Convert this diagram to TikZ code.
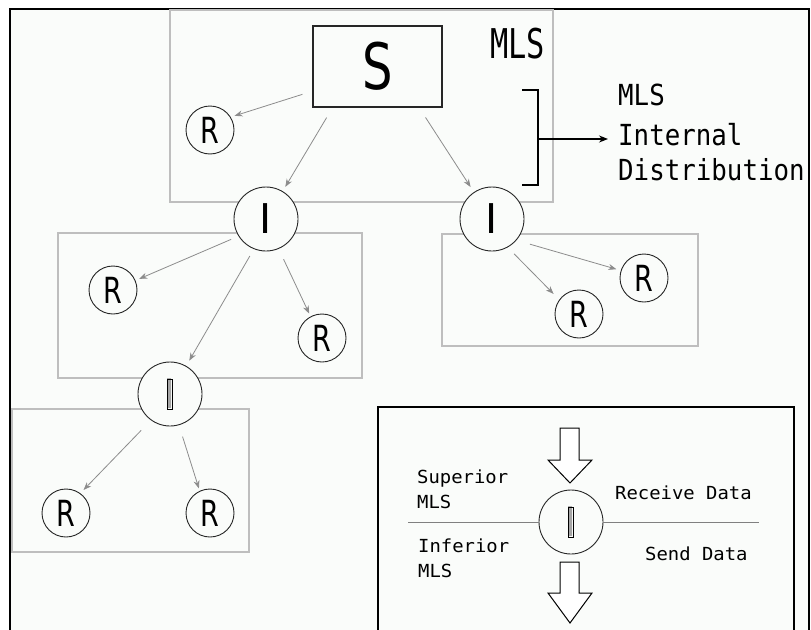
\documentclass[tikz,border=0pt]{standalone}
\usepackage{fontspec}
\usetikzlibrary{arrows.meta,calc}

\newfontfamily\lettfont[FakeStretch=0.75]{DejaVu Sans}
\newfontfamily\barfont{DejaVu Sans}
\newfontfamily\monoA[FakeStretch=0.74]{DejaVu Sans Mono}
\newfontfamily\monoB[FakeStretch=0.89]{DejaVu Sans Mono}
\newfontfamily\monoC[FakeStretch=1.05]{DejaVu Sans Mono}

\definecolor{paper}{RGB}{250,252,250}
\definecolor{boxgray}{RGB}{190,190,190}
\definecolor{arrgray}{RGB}{140,140,140}
\definecolor{bargray}{RGB}{165,165,165}

\tikzset{
  grpbox/.style={draw=boxgray, line width=1.3pt},
  rnode/.style={circle, draw=black!85, line width=0.9pt, fill=paper,
    minimum size=48pt, inner sep=0pt, font=\lettfont\fontsize{36}{36}\selectfont},
  inode/.style={circle, draw=black!85, line width=0.9pt, fill=paper,
    minimum size=64pt, inner sep=0pt, font=\barfont\fontsize{41}{41}\selectfont},
  conn/.style={draw=arrgray, line width=0.8pt, -{Stealth[length=8pt,width=6pt]}},
  lbl/.style={inner sep=0pt, anchor=base west},
  hollow/.style={draw=black, line width=1pt, fill=white, line join=miter},
  midline/.style={draw=gray, line width=1pt},
  barrim/.style={draw=black, line width=0.9pt},
}

\begin{document}
\begin{tikzpicture}[x=1pt,y=-1pt]
\useasboundingbox (0,0) rectangle (811,629);
\fill[white] (0,0) rectangle (811,629);

% outer frame
\fill[paper] (10,9) rectangle (809,660);
\draw[line width=2pt] (10,660) -- (10,9) -- (809,9) -- (809,660);

% group boxes
\draw[grpbox] (170,10) rectangle (553,202);
\draw[grpbox] (58,233) rectangle (362,378);
\draw[grpbox] (442,234) rectangle (698,346);
\draw[grpbox] (12,409) rectangle (249,552);

% source
\node[draw=black!85, line width=1.2pt, fill=paper, minimum width=129pt,
  minimum height=81pt, inner sep=0pt,
  font=\lettfont\fontsize{64}{64}\selectfont] (S) at (377.5,66.5) {S};
\node[lbl, font=\monoA\fontsize{41}{41}\selectfont] (mlsTop) at (490,58) {MLS};

% nodes
\node[rnode] (R1) at (210,130) {R};
\node[inode] (I1) at (266,219) {I};
\node[inode] (I2) at (492,219) {I};
\node[rnode] (R2) at (113,290) {R};
\node[rnode] (R3) at (322,338) {R};
\node[inode] (I3) at (170,394) {\textcolor{bargray}{I}};
\draw[barrim] ($(I3)+(-2.3,-15)$) rectangle ($(I3)+(2.3,15)$);
\node[rnode] (R4) at (66,513) {R};
\node[rnode] (R5) at (210,513) {R};
\node[rnode] (R6) at (579,314) {R};
\node[rnode] (R7) at (644,278) {R};

% connectors
\draw[conn, shorten <=10.5pt, shorten >=4pt] ($(S.west)!0.6!(S.south west)$) -- (R1.32);
\draw[conn, shorten <=11.7pt, shorten >=5pt] ($(S.south west)!0.155!(S.south east)$) -- (I1.59);
\draw[conn, shorten <=11.7pt, shorten >=6pt] ($(S.south east)!0.18!(S.south west)$) -- (I2.124);
\draw[conn, shorten <=8pt, shorten >=4pt] (I1.212) -- (R2.23);
\draw[conn, shorten <=8pt, shorten >=6pt] (I1.248) -- (I3.60);
\draw[conn, shorten <=11.5pt, shorten >=3pt] (I1.293) -- (R3.118);
\draw[conn, shorten <=9pt, shorten >=8pt] (I2.299) -- (R6.144);
\draw[conn, shorten <=14pt, shorten >=4.5pt] (I2.319) -- (R7.162);
\draw[conn, shorten <=14pt, shorten >=4.5pt] (I3.234) -- (R4.54);
\draw[conn, shorten <=12pt, shorten >=2.5pt] (I3.286) -- (R5.115);

% bracket and its label
\coordinate (brT) at (522,90);
\coordinate (brB) at (522,185);
\coordinate (brM) at (538,139);
\coordinate (brTip) at (608,139);
\draw[line width=1.2pt, line join=miter] (brT) -- (538,90) -- (538,185) -- (brB);
\draw[line width=1.2pt, -{Stealth[length=9pt,width=7pt]}] (brM) -- (brTip);
\node[lbl, font=\monoB\fontsize{29}{29}\selectfont] (lblA) at (618,105) {MLS};
\node[lbl, font=\monoB\fontsize{29}{29}\selectfont] (lblB) at (618,145) {Internal};
\node[lbl, font=\monoB\fontsize{29}{29}\selectfont] (lblC) at (618,180) {Distribution};

% legend
\draw[line width=2pt, fill=paper] (378,660) -- (378,407) -- (794,407) -- (794,660);
\node[inode] (LI) at (571,522) {\textcolor{bargray}{I}};
\draw[barrim] ($(LI)+(-2.3,-15)$) rectangle ($(LI)+(2.3,15)$);
\coordinate (lnL) at (408,522);
\coordinate (lnR) at (759,522);
\draw[midline] (lnL) -- (LI);
\draw[midline] (LI) -- (lnR);
\draw[hollow] (560,428) -- (579,428) -- (579,460) -- (592,460) -- (570,483)
  -- (548,460) -- (560,460) -- cycle;
\draw[hollow] (560,562) -- (579,562) -- (579,593) -- (592,593) -- (570,623)
  -- (548,593) -- (560,593) -- cycle;
\begin{scope}[every node/.style={lbl, font=\monoC\fontsize{18}{18}\selectfont}]
  \node (supA) at (417,483) {Superior};
  \node (supB) at (417,508) {MLS};
  \node (infA) at (418,552) {Inferior};
  \node (infB) at (418,577) {MLS};
  \node (recv) at (615,499) {Receive Data};
  \node (send) at (645,560) {Send Data};
\end{scope}
\end{tikzpicture}
\end{document}
